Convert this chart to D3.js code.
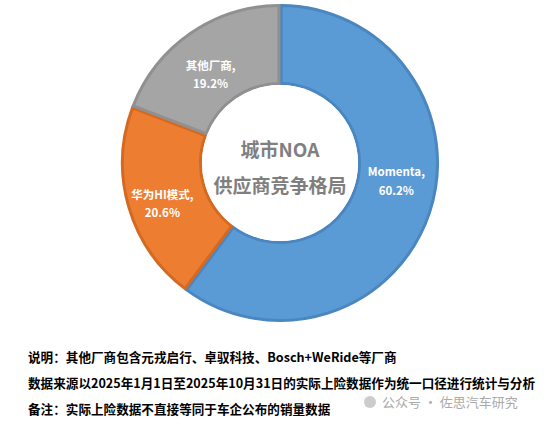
<!DOCTYPE html>
<html><head><meta charset="utf-8">
<script src="https://cdn.jsdelivr.net/npm/d3@7"></script>
<style>body{margin:0;background:#fff;font-family:"Noto Sans CJK SC","Noto Sans",sans-serif;}</style>
</head><body><div id="chart"></div>
<script>
const categories = ['Momenta', '华为HI模式', '其他厂商'];
const values = [60.2, 20.6, 19.2];
const colors = ['#5B9BD5', '#ED7D31', '#A5A5A5'];
const strokes = ['#4A86C0', '#D46A22', '#909090'];
const notes = [
    '说明：其他厂商包含元戎启行、卓驭科技、Bosch+WeRide等厂商',
    '数据来源以2025年1月1日至2025年10月31日的实际上险数据作为统一口径进行统计与分析',
    '备注：实际上险数据不直接等同于车企公布的销量数据'
];

const width = 554, height = 424;
const cx = 280, cy = 163, rOuter = 159, rInner = 78;
// small label nudges, like the spreadsheet's manual placement
const labelNudge = [[0, -22], [0, 5], [0, 11]];

const svg = d3.select('#chart').append('svg')
    .attr('width', width).attr('height', height);

const pie = d3.pie().sort(null).value(d => d)(values);
const labelArc = d3.arc().innerRadius((rInner + rOuter) / 2 + 4).outerRadius((rInner + rOuter) / 2 + 4);

const g = svg.append('g').attr('transform', `translate(${cx},${cy})`);

g.append('circle').attr('r', rOuter).attr('fill', '#f4f4f4');

g.selectAll('path').data(pie).join('path')
    .attr('d', d3.arc().innerRadius(rInner + 1.5).outerRadius(rOuter - 1.5).padAngle(0.012))
    .attr('fill', (d, i) => colors[i])
    .attr('stroke', (d, i) => strokes[i])
    .attr('stroke-width', 3);

g.append('circle').attr('r', rInner).attr('fill', '#fff');

const lbl = g.selectAll('text.lbl').data(pie).join('text')
    .attr('class', 'lbl')
    .attr('transform', (d, i) => {
        const c = labelArc.centroid(d);
        return `translate(${c[0] + labelNudge[i][0]},${c[1] + labelNudge[i][1]})`;
    })
    .attr('text-anchor', 'middle')
    .attr('fill', '#fff')
    .attr('font-size', 11.5)
    .attr('font-weight', 'bold');
lbl.append('tspan').attr('x', 0).attr('dy', '-0.3em').text((d, i) => categories[i] + ',');
lbl.append('tspan').attr('x', 0).attr('dy', '1.6em').text((d, i) => values[i].toFixed(1) + '%');

g.append('text').attr('text-anchor', 'middle').attr('y', -6)
    .attr('font-size', 19).attr('font-weight', 'bold').attr('fill', '#7f7f7f').text('城市NOA');
g.append('text').attr('text-anchor', 'middle').attr('y', 30)
    .attr('font-size', 19).attr('font-weight', 'bold').attr('fill', '#7f7f7f').text('供应商竞争格局');

svg.selectAll('text.note').data(notes).join('text')
    .attr('class', 'note')
    .attr('x', 28)
    .attr('y', (d, i) => 362 + i * 26)
    .attr('font-size', 12.6)
    .attr('font-weight', 'bold')
    .attr('fill', '#000')
    .text(d => d);

svg.append('text').attr('x', 382).attr('y', 407)
    .attr('font-size', 13).attr('fill', '#aaa').text('公众号 · 佐思汽车研究');
svg.append('circle').attr('cx', 370).attr('cy', 402).attr('r', 6).attr('fill', '#ccc');
</script></body></html>
